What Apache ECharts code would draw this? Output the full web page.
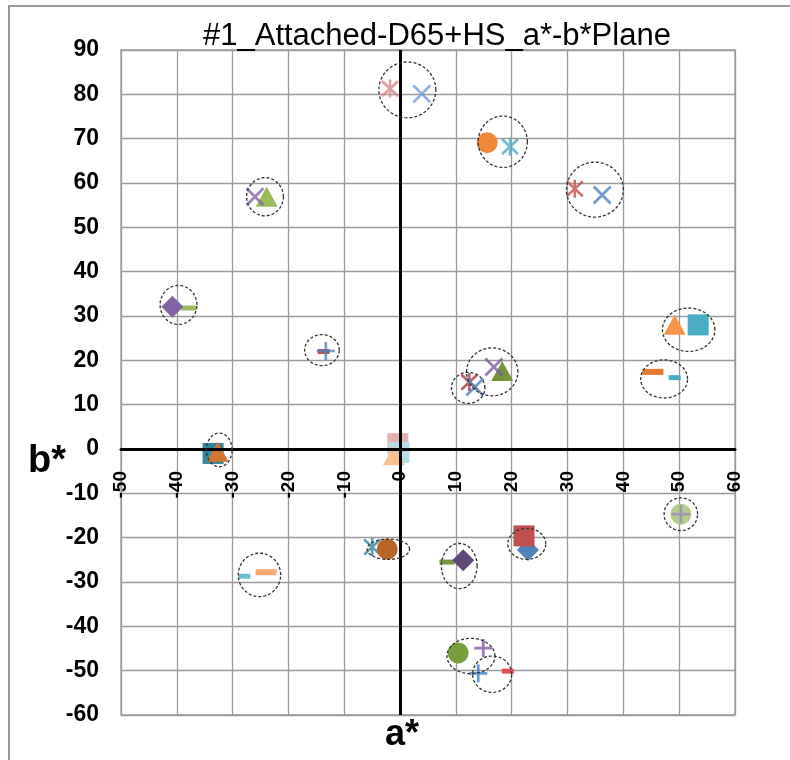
<!DOCTYPE html>
<html>
<head>
<meta charset="utf-8">
<script src="https://cdn.jsdelivr.net/npm/echarts@6/dist/echarts.min.js"></script>
<style>
html, body { margin: 0; padding: 0; background: #fff; }
#main { width: 790px; height: 760px; }
</style>
</head>
<body>
<div id="main"></div>
<script>
// measured points, in drawing order
var aValues = [-1.8, 3.9, 15.6, 19.7, 31.3, 36.2, -23.9, -26.0, -37.9, -40.8,
               -13.7, -13.3, 49.2, 53.4, 45.3, 49.2, 18.3, 16.8, 12.4, 13.4,
               -33.5, -32.7, -0.4, -0.2, -1.1, 50.3, 50.3, 22.9, 22.2, -5.0,
               -2.3, 8.4, 11.3, -27.9, -24.0, 10.4, 14.9, 14.0, 19.3];
var bValues = [81.3, 80.1, 69.1, 68.2, 58.7, 57.3, 56.9, 56.9, 31.8, 32.1,
               22.0, 22.1, 28.0, 28.0, 17.4, 16.1, 17.6, 18.5, 15.1, 14.0,
               -1.0, -0.6, 1.2, -0.8, -1.4, -14.7, -14.7, -22.8, -19.6, -22.1,
               -22.6, -25.5, -25.1, -28.7, -27.8, -46.0, -44.9, -50.6, -50.1];
var markers = ['star', 'x', 'circle', 'star', 'star', 'x', 'triangle', 'x', 'dash', 'diamond',
               'dashS', 'plus', 'triangle', 'square', 'dashL', 'dashS', 'triangle', 'x', 'star', 'x',
               'square', 'triangle', 'square', 'square', 'triangle', 'circle', 'plus', 'diamond', 'square', 'star',
               'circle', 'dash', 'diamond', 'dashS', 'dashL', 'circle', 'plus', 'plus', 'dashS'];
var colors = ['#D9868A', '#6F9BD6', '#F0883A', '#4BACC6', '#C0504D', '#4F81BD', '#9BBB59', '#8064A2', '#9BBB59', '#8064A2',
              '#C0504D', '#4F81BD', '#F79646', '#4BACC6', '#E47B2E', '#4BACC6', '#77933C', '#7A5C9E', '#A33B3B', '#4F81BD',
              '#31859C', '#D2782E', '#E6B0AF', '#B7DEE8', '#FAC090', '#B5CD8A', '#9C86BF', '#4F81BD', '#C0504D', '#31859C',
              '#B8652A', '#77933C', '#5F497A', '#6DBCD6', '#F9A870', '#77A03C', '#7E57A8', '#3D7FD0', '#E05050'];

// dashed rings around matched pairs: centre a*, b*, half width, half height
var ringA  = [1.3, 18.4, 34.9, -24.2, -39.7, -14.0, 51.7, 47.3, 12.2, 16.5, -32.4, 50.3, 22.7, -2.1, 10.6, -25.2, 12.7, 16.5];
var ringB  = [81.0, 69.3, 58.5, 56.9, 32.5, 22.3, 26.9, 15.8, 13.8, 17.4, -0.2, -14.7, -21.4, -22.6, -26.4, -28.4, -46.7, -50.8];
var ringRA = [5.1, 4.4, 5.1, 3.3, 3.3, 3.1, 4.7, 4.2, 3.0, 4.6, 2.3, 3.0, 3.4, 3.8, 3.2, 3.8, 4.3, 3.5];
var ringRB = [6.3, 5.8, 6.2, 4.3, 4.4, 3.5, 4.9, 4.3, 3.5, 5.4, 3.8, 3.7, 3.5, 2.3, 5.1, 4.9, 4.0, 4.1];

var markerStyle = {
    circle:   { symbol: 'circle', size: 21 },
    square:   { symbol: 'rect', size: 21 },
    triangle: { symbol: 'triangle', size: [22, 20] },
    diamond:  { symbol: 'diamond', size: [22, 22] },
    dash:     { symbol: 'rect', size: [15, 5] },
    dashS:    { symbol: 'rect', size: [12, 5] },
    dashL:    { symbol: 'rect', size: [21, 6] },
    x:        { symbol: 'path://M0,0L10,10M10,0L0,10', size: 17, line: true },
    star:     { symbol: 'path://M0,1L10,11M10,1L0,11M5,0L5,12', size: [16, 18], line: true },
    plus:     { symbol: 'path://M5,0L5,10M0,5L10,5', size: 18, line: true }
};

var myChart = echarts.init(document.getElementById('main'));

var series = [];
aValues.forEach(function (a, i) {
    var m = markerStyle[markers[i]];
    series.push({
        type: 'scatter',
        silent: true,
        data: [[a, bValues[i]]],
        symbol: m.symbol,
        symbolSize: m.size,
        itemStyle: m.line
            ? { color: 'rgba(0,0,0,0)', borderColor: colors[i], borderWidth: 2.7 }
            : { color: colors[i], opacity: 1 }
    });
});

// black axis lines through the origin, drawn over the markers
series[0].markLine = {
    silent: true,
    symbol: 'none',
    label: { show: false },
    lineStyle: { color: '#000', width: 3, type: 'solid' },
    data: [{ xAxis: 0 }, { yAxis: 0 }]
};

series.push({
    type: 'custom',
    silent: true,
    z: 6,
    data: ringA.map(function (a, i) { return [a, ringB[i], ringRA[i], ringRB[i]]; }),
    renderItem: function (params, api) {
        var a = api.value(0), b = api.value(1), ra = api.value(2), rb = api.value(3);
        var pts = [];
        for (var k = 0; k < 72; k++) {
            var t = k / 72 * Math.PI * 2;
            pts.push(api.coord([a + ra * Math.cos(t), b + rb * Math.sin(t)]));
        }
        return {
            type: 'polygon',
            shape: { points: pts },
            style: { fill: 'none', stroke: '#333', lineWidth: 1.3, lineDash: [3, 2] }
        };
    }
});

var gridLine = { lineStyle: { color: '#9a9a9a', width: 1.3 } };

option = {
    animation: false,
    title: {
        text: '#1_Attached-D65+HS_a*-b*Plane',
        left: 203,
        top: 21,
        padding: 0,
        textStyle: { fontSize: 31, fontWeight: 'normal', fontFamily: 'Liberation Sans', color: '#000' }
    },
    grid: {
        left: 121, right: 55, top: 50, bottom: 45,
        show: true, borderColor: '#9a9a9a', borderWidth: 1.3,
        outerBoundsMode: 'none'
    },
    xAxis: {
        type: 'value',
        min: -50, max: 60, interval: 10,
        // lift the axis from the plot bottom (b* = -60) up to b* = 0
        offset: -266,
        axisLine: { show: true, onZero: false, lineStyle: { color: '#000', width: 3 } },
        axisTick: { show: false },
        axisLabel: { rotate: 90, margin: 22, fontSize: 19, fontWeight: 'bold', fontFamily: 'Liberation Sans', color: '#000' },
        splitLine: gridLine
    },
    yAxis: {
        type: 'value',
        min: -60, max: 90, interval: 10,
        axisLine: { show: false },
        axisTick: { show: false },
        axisLabel: { margin: 22, fontSize: 23, fontWeight: 'bold', fontFamily: 'Liberation Sans', color: '#000' },
        splitLine: gridLine
    },
    graphic: [
        { type: 'rect', silent: true, z: -10, shape: { x: 9, y: 6, width: 800, height: 800 },
          style: { fill: 'none', stroke: '#999', lineWidth: 2 } },
        { type: 'text', silent: true, x: 47, y: 462,
          style: { text: 'b*', font: 'bold 38px "Liberation Sans"', align: 'center', verticalAlign: 'middle', fill: '#000' } },
        { type: 'text', silent: true, x: 402, y: 735,
          style: { text: 'a*', font: 'bold 36px "Liberation Sans"', align: 'center', verticalAlign: 'middle', fill: '#000' } }
    ],
    series: series
};
myChart.setOption(option);
</script>
</body>
</html>
